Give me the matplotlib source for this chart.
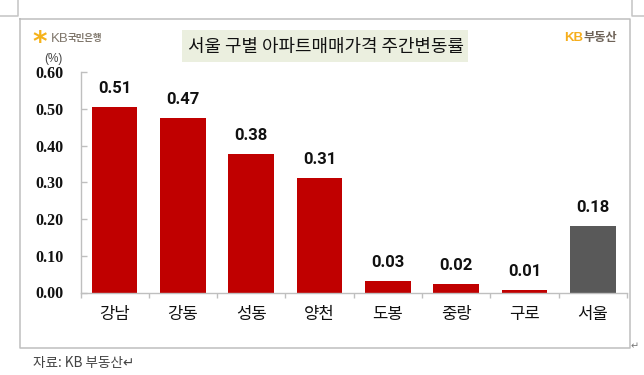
import matplotlib
matplotlib.use("Agg")
import matplotlib.pyplot as plt
from matplotlib.patches import Rectangle
from matplotlib.lines import Line2D

categories = ["강남", "강동", "성동", "양천", "도봉", "중랑", "구로", "서울"]
values = [0.505, 0.474, 0.378, 0.312, 0.031, 0.022, 0.007, 0.180]
value_labels = ["0.51", "0.47", "0.38", "0.31", "0.03", "0.02", "0.01", "0.18"]
bar_colors = ["#C00000"] * 7 + ["#595959"]
y_ticks = [0.0, 0.1, 0.2, 0.3, 0.4, 0.5, 0.6]
y_tick_labels = ["0.00", "0.10", "0.20", "0.30", "0.40", "0.50", "0.60"]

KR = ["Noto Sans CJK KR", "DejaVu Sans"]
W, H = 644, 375
fig = plt.figure(figsize=(W / 100, H / 100), dpi=100, facecolor="white")
fx = lambda x: x / W
fy = lambda y: 1 - y / H

def fline(xs, ys, color="#BFBFBF", lw=1.1):
    fig.add_artist(Line2D([fx(x) for x in xs], [fy(y) for y in ys],
                          color=color, lw=lw, transform=fig.transFigure))

# page / chart frame
fline([19.5, 630, 630, 19.5, 19.5], [18.5, 18.5, 348, 348, 18.5])
fline([0, 18, 18], [16, 16, 0], color="#C4C4C4")
fline([644, 632, 632], [16, 16, 0], color="#C4C4C4")

# plot area
ax = fig.add_axes([fx(80.5), fy(292.5), (627 - 80.5) / W, (292.5 - 72) / H])
ax.set_xlim(-0.5, 7.5)
ax.set_ylim(0, 0.6)
ax.patch.set_alpha(0)
xpos = list(range(len(categories)))
ax.bar(xpos, values, width=0.667, color=bar_colors, zorder=2)
for sp in ("top", "right"):
    ax.spines[sp].set_visible(False)
for sp in ("left", "bottom"):
    ax.spines[sp].set_color("#BFBFBF")
    ax.spines[sp].set_linewidth(1.0)
ax.set_yticks(y_ticks)
ax.set_yticklabels(y_tick_labels, family="Liberation Serif", fontsize=11.5,
                   fontweight="bold", color="#111111")
ax.tick_params(axis="y", direction="in", length=4, width=1, color="#BFBFBF", pad=12.5)
ax.set_xticks([i - 0.5 for i in range(9)])
ax.set_xticklabels([])
ax.tick_params(axis="x", direction="out", length=3.5, width=1, color="#BFBFBF")

for x, c in zip(xpos, categories):
    ax.annotate(c, (x, 0), xytext=(0, -22.5), textcoords="offset pixels",
                ha="center", va="center", family=KR, fontsize=12, color="#111111")
for x, v, lab in zip(xpos, values, value_labels):
    ax.annotate(lab, (x, v), xytext=(0, 18.5), textcoords="offset pixels",
                ha="center", va="center", family="Roboto", fontsize=12,
                fontweight="bold", color="#111111")

# title
fig.add_artist(Rectangle((fx(182), fy(62)), (468 - 182) / W, (62 - 30) / H,
                         transform=fig.transFigure, facecolor="#EBEFDF", edgecolor="none"))
fig.text(fx(325.5), fy(46.5), "서울 구별 아파트매매가격 주간변동률", ha="center", va="center",
         family=KR, fontsize=12.9, color="#111111")

# units and brand marks
fig.text(fx(53.5), fy(59), "(%)", ha="center", va="center", family="Liberation Sans",
         fontsize=8.5, color="#444444")
fig.text(fx(40), fy(43), "*", ha="center", va="center", family="DejaVu Sans",
         fontsize=20, fontweight="bold", color="#F5B21A")
fig.text(fx(51), fy(38.5), "KB", ha="left", va="center", family="Liberation Sans",
         fontsize=9.5, color="#80776C")
fig.text(fx(68), fy(38.5), "국민은행", ha="left", va="center", family=KR,
         fontsize=6.8, fontweight="bold", color="#80776C")
fig.text(fx(564), fy(38), "KB", ha="left", va="center", family="Liberation Sans",
         fontsize=9.5, fontweight="bold", color="#F6AE1C")
fig.text(fx(583), fy(38), "부동산", ha="left", va="center", family=KR,
         fontsize=8.8, fontweight="bold", color="#6E6358")

# source note
fig.text(fx(33), fy(363), "자료: KB 부동산↵", ha="left", va="center", family=KR,
         fontsize=9.8, color="#444444")
fig.text(fx(635), fy(346), "↵", ha="center", va="center", family="DejaVu Sans",
         fontsize=7, color="#777777")

fig.savefig("out.png", dpi=100)
